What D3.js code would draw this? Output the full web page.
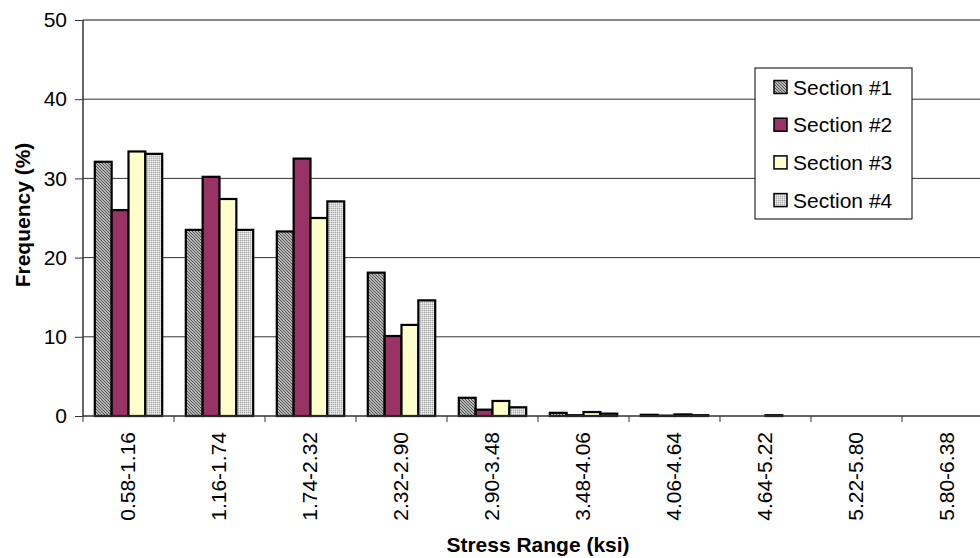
<!DOCTYPE html>
<html>
<head>
<meta charset="utf-8">
<script src="https://cdn.jsdelivr.net/npm/d3@7"></script>
<style>
  html, body { margin: 0; padding: 0; background: #fff; }
  svg { display: block; font-family: "Liberation Sans", Arial, sans-serif; }
</style>
</head>
<body>
<svg id="chart" width="980" height="558"></svg>
<script>
// Stress range bins (ksi)
const categories = ["0.58-1.16", "1.16-1.74", "1.74-2.32", "2.32-2.90", "2.90-3.48",
                    "3.48-4.06", "4.06-4.64", "4.64-5.22", "5.22-5.80", "5.80-6.38"];
const seriesNames = ["Section #1", "Section #2", "Section #3", "Section #4"];
// Frequency (%) per bin for each section
const section1 = [32.1, 23.5, 23.3, 18.1, 2.3, 0.4, 0.15, 0.0, 0.0, 0.0];
const section2 = [26.0, 30.2, 32.5, 10.1, 0.8, 0.1, 0.05, 0.0, 0.0, 0.0];
const section3 = [33.4, 27.4, 25.0, 11.5, 1.9, 0.5, 0.2, 0.1, 0.0, 0.0];
const section4 = [33.1, 23.5, 27.1, 14.6, 1.1, 0.3, 0.1, 0.0, 0.0, 0.0];
const yTicks = [0, 10, 20, 30, 40, 50];

const seriesValues = [section1, section2, section3, section4];
const fills = ["url(#hatch1)", "#993366", "#FFFFCC", "url(#dots4)"];
const FONT = 21;

const svg = d3.select("#chart");
const margin = { left: 83, top: 20, right: 993, bottom: 416 };

// Fill patterns for the textured bars
const defs = svg.append("defs");
const h = defs.append("pattern").attr("id", "hatch1")
  .attr("patternUnits", "userSpaceOnUse").attr("width", 3).attr("height", 3);
h.append("rect").attr("width", 3).attr("height", 3).attr("fill", "#e4e4e4");
h.append("path").attr("d", "M-1,-1 L4,4 M-1,2 L1,4 M2,-1 L4,1")
  .attr("stroke", "#4a4a4a").attr("stroke-width", 1.1);
const d4 = defs.append("pattern").attr("id", "dots4")
  .attr("patternUnits", "userSpaceOnUse").attr("width", 2).attr("height", 2);
d4.append("rect").attr("width", 2).attr("height", 2).attr("fill", "#d4d4d4");
d4.append("rect").attr("width", 1).attr("height", 1).attr("fill", "#a8a8a8");
d4.append("rect").attr("x", 1).attr("y", 1).attr("width", 1).attr("height", 1).attr("fill", "#f0f0f0");

const x = d3.scaleBand().domain(categories)
  .range([margin.left, margin.right]).paddingInner(0).paddingOuter(0);
const xs = d3.scaleBand().domain(d3.range(4))
  .range([0, x.bandwidth()]).paddingInner(0).paddingOuter(0.7);
const y = d3.scaleLinear().domain([0, 50]).range([margin.bottom, margin.top]);

// Horizontal gridlines
svg.append("g").selectAll("line").data(yTicks.filter(t => t > 0 && t < 50)).join("line")
  .attr("x1", margin.left).attr("x2", margin.right)
  .attr("y1", d => y(d)).attr("y2", d => y(d))
  .attr("stroke", "#333").attr("stroke-width", 1);
// Top border of the plot area
svg.append("line").attr("x1", margin.left).attr("x2", margin.right)
  .attr("y1", y(50)).attr("y2", y(50)).attr("stroke", "#888").attr("stroke-width", 2);

// Bars
const groups = svg.append("g").selectAll("g").data(categories).join("g")
  .attr("transform", d => `translate(${x(d)},0)`);
groups.selectAll("rect")
  .data((c, i) => seriesValues.map((s, k) => ({ k, v: s[i] })))
  .join("rect")
  .attr("x", d => xs(d.k))
  .attr("width", xs.bandwidth())
  .attr("y", d => y(d.v))
  .attr("height", d => y(0) - y(d.v))
  .attr("fill", d => fills[d.k])
  .attr("stroke", "#000")
  .attr("stroke-width", d => d.v > 0 ? 2.2 : 0);

// Y axis
const yAxis = svg.append("g").attr("transform", `translate(${margin.left},0)`)
  .call(d3.axisLeft(y).tickValues(yTicks).tickSize(8).tickPadding(8).tickFormat(d3.format("d")));
yAxis.attr("font-size", FONT).attr("font-family", "Liberation Sans, Arial, sans-serif");
yAxis.select(".domain").attr("stroke", "#333").attr("stroke-width", 1.5).attr("d", `M0,${y(50)}V${y(0)}`);
yAxis.selectAll(".tick line").attr("stroke", "#333");
yAxis.selectAll("text").attr("fill", "#000");

// X axis with category boundary ticks
const xg = svg.append("g").attr("transform", `translate(0,${margin.bottom})`);
xg.append("line").attr("x1", margin.left).attr("x2", margin.right)
  .attr("stroke", "#333").attr("stroke-width", 1.5);
xg.selectAll("line.tk").data(categories.concat(["end"])).join("line").attr("class", "tk")
  .attr("x1", (d, i) => margin.left + i * x.bandwidth())
  .attr("x2", (d, i) => margin.left + i * x.bandwidth())
  .attr("y1", 0).attr("y2", 6).attr("stroke", "#333");
xg.selectAll("text").data(categories).join("text")
  .attr("transform", d => `translate(${x(d) + x.bandwidth() / 2 + 6},16) rotate(-90)`)
  .attr("text-anchor", "end").attr("font-size", FONT).attr("fill", "#000")
  .text(d => d);

// Axis titles
svg.append("text").attr("transform", `translate(30,215) rotate(-90)`)
  .attr("text-anchor", "middle").attr("font-size", FONT).attr("font-weight", "bold")
  .text("Frequency (%)");
svg.append("text").attr("x", (margin.left + margin.right) / 2).attr("y", 552)
  .attr("text-anchor", "middle").attr("font-size", FONT).attr("font-weight", "bold")
  .text("Stress Range (ksi)");

// Legend
const lg = svg.append("g").attr("transform", "translate(755,68)");
lg.append("rect").attr("width", 157).attr("height", 151)
  .attr("fill", "#fff").attr("stroke", "#000").attr("stroke-width", 1);
const items = lg.selectAll("g").data(seriesNames).join("g")
  .attr("transform", (d, i) => `translate(19,${19 + i * 37.7})`);
items.append("rect").attr("x", 0).attr("y", -6.5).attr("width", 13).attr("height", 13)
  .attr("fill", (d, i) => fills[i]).attr("stroke", "#000").attr("stroke-width", 1.5);
items.append("text").attr("x", 19).attr("y", 7.5).attr("font-size", FONT).attr("fill", "#000")
  .text(d => d);
</script>
</body>
</html>
